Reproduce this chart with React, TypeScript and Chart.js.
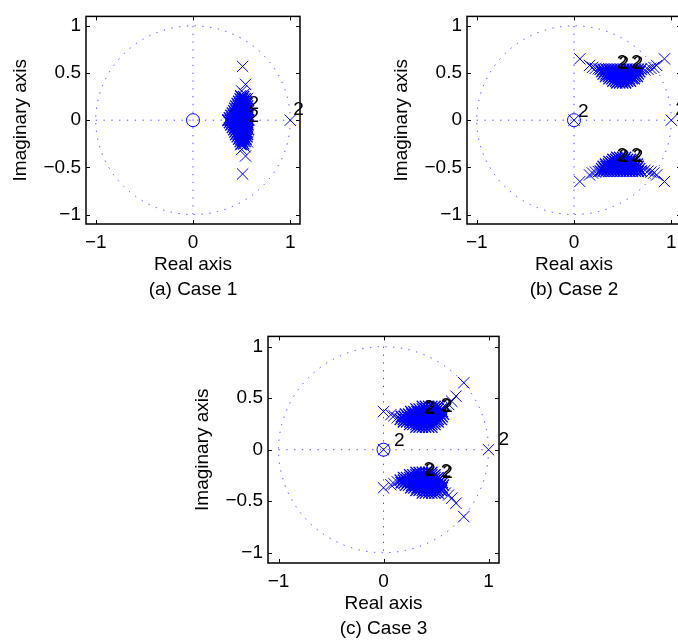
import React, { useEffect, useRef } from 'react';
import { Chart, registerables } from 'chart.js';

Chart.register(...registerables);

// ---------- tick values / labels ----------
const xTickValues = [-1, 0, 1];
const xTickLabels = ['\u22121', '0', '1'];
const yTickValues = [-1, -0.5, 0, 0.5, 1];
const yTickLabels = ['\u22121', '\u22120.5', '0', '0.5', '1'];

// Dense pole clusters are stored row by row: [imaginary part, [real parts...]] (upper half-plane;
// the lower half-plane holds the complex conjugates).

// ---------- Case 1 ----------
const zerosA = [[0, 0]];
const polesARealAxis = [[1.0, 0]];
const polesAOutliers = [
  [0.51, 0.57], [0.54, 0.38], [0.50, 0.31], [0.53, 0.28], [0.49, 0.26], [0.56, 0.23],
];
const polesACoreRows: [number, number[]][] = [
  [0.0, [0.36, 0.385, 0.41, 0.44, 0.465, 0.49, 0.52, 0.545, 0.57]],
  [0.025, [0.375, 0.40, 0.43, 0.455, 0.48, 0.505, 0.535, 0.56]],
  [0.05, [0.39, 0.415, 0.44, 0.465, 0.49, 0.515, 0.54, 0.565]],
  [0.075, [0.405, 0.43, 0.455, 0.48, 0.505, 0.53, 0.555]],
  [0.10, [0.42, 0.445, 0.47, 0.495, 0.52, 0.545, 0.57]],
  [0.125, [0.43, 0.455, 0.48, 0.505, 0.53, 0.555]],
  [0.15, [0.44, 0.465, 0.49, 0.515, 0.54, 0.56]],
  [0.175, [0.455, 0.48, 0.505, 0.53, 0.555]],
  [0.20, [0.47, 0.495, 0.52, 0.545]],
  [0.225, [0.485, 0.51, 0.535]],
  [0.25, [0.495, 0.52]],
];
const labelsA = [[0.57, 0.175], [0.57, 0.04], [1.03, 0.11]];

// ---------- Case 2 ----------
const zerosB = [[0, 0]];
const polesBRealAxis = [[0, 0], [1.0, 0]];
const polesBOutliers = [
  [0.06, 0.65], [0.93, 0.65], [0.16, 0.58], [0.19, 0.56], [0.22, 0.55], [0.25, 0.545],
  [0.85, 0.58], [0.82, 0.56], [0.79, 0.55], [0.76, 0.54], [0.73, 0.53],
];
const polesBCoreRows: [number, number[]][] = [
  [0.54, [0.27, 0.30, 0.33, 0.36, 0.39, 0.42, 0.45, 0.48, 0.51, 0.54, 0.57, 0.60, 0.63, 0.66, 0.69]],
  [0.515, [0.285, 0.315, 0.345, 0.375, 0.405, 0.435, 0.465, 0.495, 0.525, 0.555, 0.585, 0.615, 0.645, 0.675]],
  [0.49, [0.30, 0.33, 0.36, 0.39, 0.42, 0.45, 0.48, 0.51, 0.54, 0.57, 0.60, 0.63, 0.66]],
  [0.465, [0.325, 0.355, 0.385, 0.415, 0.445, 0.475, 0.505, 0.535, 0.565, 0.595, 0.625, 0.65]],
  [0.44, [0.36, 0.39, 0.42, 0.45, 0.48, 0.51, 0.54, 0.57, 0.60, 0.62]],
  [0.415, [0.40, 0.43, 0.46, 0.49, 0.52, 0.55, 0.58]],
  [0.395, [0.44, 0.47, 0.50, 0.53]],
];
const labelsB = [
  [0.04, 0.09], [1.04, 0.11],
  [0.44, 0.61], [0.458, 0.603], [0.585, 0.61], [0.603, 0.603],
  [0.44, -0.38], [0.458, -0.387], [0.585, -0.38], [0.603, -0.387],
];

// ---------- Case 3 ----------
const zerosC = [[0, 0]];
const polesCRealAxis = [[0, 0], [1.0, 0]];
const polesCOutliers = [
  [0.00, 0.37], [0.07, 0.34], [0.10, 0.33], [0.13, 0.31], [0.59, 0.42], [0.62, 0.44],
  [0.65, 0.47], [0.69, 0.52], [0.765, 0.65],
];
const polesCCoreRows: [number, number[]][] = [
  [0.22, [0.31, 0.34, 0.37, 0.40, 0.43, 0.46]],
  [0.245, [0.25, 0.28, 0.31, 0.34, 0.37, 0.40, 0.43, 0.46, 0.49]],
  [0.27, [0.19, 0.22, 0.25, 0.28, 0.31, 0.34, 0.37, 0.40, 0.43, 0.46, 0.49, 0.52]],
  [0.295, [0.16, 0.19, 0.22, 0.25, 0.28, 0.31, 0.34, 0.37, 0.40, 0.43, 0.46, 0.49, 0.52, 0.55]],
  [0.32, [0.17, 0.20, 0.23, 0.26, 0.29, 0.32, 0.35, 0.38, 0.41, 0.44, 0.47, 0.50, 0.53, 0.56]],
  [0.345, [0.21, 0.24, 0.27, 0.30, 0.33, 0.36, 0.39, 0.42, 0.45, 0.48, 0.51, 0.54, 0.57]],
  [0.37, [0.26, 0.29, 0.32, 0.35, 0.38, 0.41, 0.44, 0.47, 0.50, 0.53, 0.56]],
  [0.395, [0.31, 0.34, 0.37, 0.40, 0.43, 0.46, 0.49, 0.52, 0.55]],
  [0.42, [0.37, 0.40, 0.43, 0.46, 0.49, 0.52]],
];
const labelsC = [
  [0.1, 0.09], [1.095, 0.095],
  [0.38, 0.41], [0.395, 0.40], [0.545, 0.43], [0.56, 0.415],
  [0.38, -0.19], [0.395, -0.20], [0.545, -0.21], [0.56, -0.228],
];

// ---------- helpers ----------
const FONT = "'Liberation Sans', Arial, Helvetica, sans-serif";
const BLUE = '#0000ff';

function rowsToPairs(rows: [number, number[]][]) {
  const out: number[][] = [];
  rows.forEach(([im, res]) => res.forEach((re) => out.push([re, im])));
  return out;
}
function withConjugates(upper: number[][]) {
  return upper.concat(upper.map(([re, im]) => [re, -im]));
}
function toPts(arr: number[][]) {
  return arr.map(([x, y]) => ({ x, y }));
}

const zgridPlugin = {
  id: 'zgrid',
  beforeDatasetsDraw(chart: any) {
    const { ctx, scales } = chart;
    const xs = scales.x, ys = scales.y;
    const cx = xs.getPixelForValue(0), cy = ys.getPixelForValue(0);
    const rx = xs.getPixelForValue(1) - cx;
    const ry = cy - ys.getPixelForValue(1);
    ctx.save();
    ctx.beginPath();
    ctx.rect(chart.chartArea.left, chart.chartArea.top, chart.chartArea.width, chart.chartArea.height);
    ctx.clip();
    ctx.strokeStyle = 'rgba(40,40,255,0.85)';
    ctx.lineWidth = 1;
    ctx.setLineDash([1.3, 6.5]);
    ctx.beginPath();
    ctx.ellipse(cx, cy, rx, ry, 0, 0, Math.PI * 2);
    ctx.stroke();
    ctx.beginPath();
    ctx.moveTo(xs.getPixelForValue(-1), cy);
    ctx.lineTo(xs.getPixelForValue(1), cy);
    ctx.moveTo(cx, ys.getPixelForValue(1));
    ctx.lineTo(cx, ys.getPixelForValue(-1));
    ctx.stroke();
    ctx.restore();
  },
  afterDatasetsDraw(chart: any, _args: any, opts: any) {
    const { ctx, scales, chartArea } = chart;
    const xs = scales.x, ys = scales.y;
    ctx.save();
    ctx.fillStyle = '#000';
    ctx.font = `19px ${FONT}`;
    ctx.textAlign = 'left';
    ctx.textBaseline = 'middle';
    (opts.labels || []).forEach(([re, im]: number[]) => {
      ctx.fillText('2', xs.getPixelForValue(re), ys.getPixelForValue(im));
    });
    ctx.strokeStyle = '#000';
    ctx.lineWidth = 1.5;
    ctx.strokeRect(chartArea.left, chartArea.top, chartArea.width, chartArea.height);
    ctx.lineWidth = 1;
    ctx.beginPath();
    const tl = 4;
    xTickValues.forEach((v) => {
      const px = Math.round(xs.getPixelForValue(v)) + 0.5;
      ctx.moveTo(px, chartArea.bottom);
      ctx.lineTo(px, chartArea.bottom - tl);
      ctx.moveTo(px, chartArea.top);
      ctx.lineTo(px, chartArea.top + tl);
    });
    yTickValues.forEach((v) => {
      const py = Math.round(ys.getPixelForValue(v)) + 0.5;
      ctx.moveTo(chartArea.left, py);
      ctx.lineTo(chartArea.left + tl, py);
      ctx.moveTo(chartArea.right, py);
      ctx.lineTo(chartArea.right - tl, py);
    });
    ctx.stroke();
    ctx.restore();
  },
};

type PanelProps = {
  left: number; top: number; width: number; height: number;
  yAxisWidth: number; xAxisHeight: number; padTop: number; padRight: number;
  caption: string;
  poles: number[][]; corePoles: number[][]; zeros: number[][]; labels: number[][];
};

function Panel(p: PanelProps) {
  const ref = useRef<HTMLCanvasElement | null>(null);
  useEffect(() => {
    if (!ref.current) return;
    const lh = 19 * 1.3;
    const titleBottomPad = p.xAxisHeight - 41 - 1.5 * lh;
    const yTitlePad = p.yAxisWidth - 65 - lh / 2;
    const markerBase = {
      pointBorderColor: BLUE,
      pointBackgroundColor: 'rgba(0,0,0,0)',
      showLine: false,
    };
    const chart = new Chart(ref.current, {
      type: 'scatter',
      data: {
        datasets: [
          { ...markerBase, data: toPts(p.corePoles), pointStyle: 'crossRot', pointRadius: 8, pointBorderWidth: 1.3 } as any,
          { ...markerBase, data: toPts(p.poles), pointStyle: 'crossRot', pointRadius: 8, pointBorderWidth: 1 } as any,
          { ...markerBase, data: toPts(p.zeros), pointStyle: 'circle', pointRadius: 6.5, pointBorderWidth: 1 } as any,
        ],
      },
      plugins: [zgridPlugin as any],
      options: {
        animation: false,
        responsive: false,
        events: [],
        layout: { padding: { top: p.padTop, right: p.padRight, left: 0, bottom: 0 } },
        plugins: {
          legend: { display: false },
          tooltip: { enabled: false },
          zgrid: { labels: p.labels },
        } as any,
        scales: {
          x: {
            type: 'linear',
            min: -1.1,
            max: 1.1,
            afterBuildTicks: (s: any) => { s.ticks = xTickValues.map((v) => ({ value: v })); },
            afterFit: (s: any) => { s.height = p.xAxisHeight; },
            ticks: {
              callback: (v: any) => xTickLabels[xTickValues.indexOf(Number(v))] ?? '',
              padding: 7,
              color: '#000',
              font: { size: 19, family: FONT },
              maxRotation: 0,
              autoSkip: false,
            },
            grid: { display: false, drawTicks: false },
            border: { display: false },
            title: {
              display: true,
              text: ['Real axis', p.caption],
              color: '#000',
              font: { size: 19, family: FONT, lineHeight: 1.3 },
              padding: { top: 0, bottom: titleBottomPad },
            },
          },
          y: {
            type: 'linear',
            min: -1.1,
            max: 1.1,
            afterBuildTicks: (s: any) => { s.ticks = yTickValues.map((v) => ({ value: v })); },
            afterFit: (s: any) => { s.width = p.yAxisWidth; },
            ticks: {
              callback: (v: any) => yTickLabels[yTickValues.indexOf(Number(v))] ?? '',
              padding: 5,
              color: '#000',
              font: { size: 19, family: FONT },
              autoSkip: false,
            },
            grid: { display: false, drawTicks: false },
            border: { display: false },
            title: {
              display: true,
              text: 'Imaginary axis',
              color: '#000',
              font: { size: 19, family: FONT, lineHeight: 1.3 },
              padding: { top: yTitlePad, bottom: 0 },
            },
          },
        },
      } as any,
    });
    return () => chart.destroy();
  }, []);
  return (
    <canvas
      ref={ref}
      width={p.width}
      height={p.height}
      style={{ position: 'absolute', left: p.left, top: p.top, width: p.width, height: p.height }}
    />
  );
}

export default function App() {
  return (
    <div
      style={{
        position: 'fixed', left: 0, top: 0, width: 678, height: 641,
        overflow: 'hidden', background: '#fff',
      }}
    >
      <Panel
        left={0} top={0} width={330} height={310}
        yAxisWidth={86} xAxisHeight={86} padTop={10} padRight={30}
        caption="(a) Case 1"
        corePoles={withConjugates(rowsToPairs(polesACoreRows))}
        poles={[...withConjugates(polesAOutliers), ...polesARealAxis]}
        zeros={zerosA}
        labels={labelsA}
      />
      <Panel
        left={360} top={0} width={340} height={310}
        yAxisWidth={107} xAxisHeight={86} padTop={10} padRight={19}
        caption="(b) Case 2"
        corePoles={withConjugates(rowsToPairs(polesBCoreRows))}
        poles={[...withConjugates(polesBOutliers), ...polesBRealAxis]}
        zeros={zerosB}
        labels={labelsB}
      />
      <Panel
        left={180} top={320} width={340} height={321}
        yAxisWidth={88} xAxisHeight={78} padTop={11} padRight={21}
        caption="(c) Case 3"
        corePoles={withConjugates(rowsToPairs(polesCCoreRows))}
        poles={[...withConjugates(polesCOutliers), ...polesCRealAxis]}
        zeros={zerosC}
        labels={labelsC}
      />
    </div>
  );
}
